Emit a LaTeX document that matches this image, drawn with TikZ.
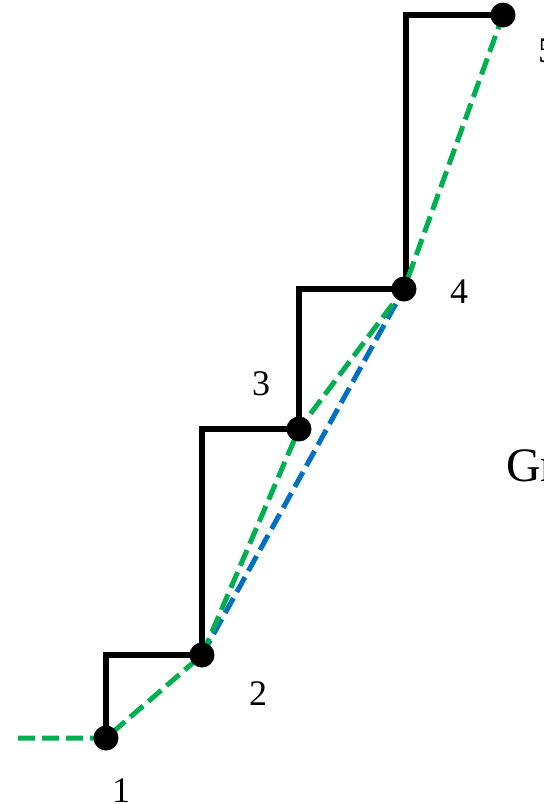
\documentclass[tikz,border=0pt]{standalone}
\usepackage{fontspec}
\setmainfont{Liberation Serif}
\definecolor{offgreen}{RGB}{0,176,80}
\definecolor{offblue}{RGB}{0,112,192}
\begin{document}
\begin{tikzpicture}[x=1pt,y=-1pt,
  stairline/.style={line width=6pt,black,line join=miter},
  greendash/.style={line width=5pt,offgreen,dash pattern=on 17pt off 7pt},
  bluedash/.style={line width=5pt,offblue,dash pattern=on 17pt off 7pt},
  dot/.style={circle,fill=black,inner sep=0pt,minimum size=25pt},
  lbl/.style={font=\fontsize{36}{40}\selectfont,anchor=base,inner sep=0pt}]
\useasboundingbox (0,0) rectangle (544,804);
\coordinate (p0) at (18,738);
\coordinate (p1) at (106,738);
\coordinate (p2) at (202,655);
\coordinate (p3) at (299,429);
\coordinate (p4) at (404,289);
\coordinate (p5) at (503,15);
% staircase
\draw[stairline] (p1) |- (p2) |- (p3) |- (p4);
\draw[stairline] (p4) ++(2,0) |- (p5);
% dashed lines
\draw[bluedash] (p2) -- (p4);
\draw[greendash] (p0) -- (p1) -- (p2) -- (p3) -- (p4) -- (p5);
% dots
\node[dot] (d1) at (p1) {};
\node[dot] (d2) at (p2) {};
\node[dot] (d3) at (p3) {};
\node[dot] (d4) at (p4) {};
\node[dot] (d5) at (p5) {};
% labels
\node[lbl] (l1) at (121,802) {1};
\node[lbl] (l2) at (258,705) {2};
\node[lbl] (l3) at (261,395) {3};
\node[lbl] (l4) at (459,303) {4};
\node[lbl] (l5) at (547,62) {5};
\node[font=\fontsize{48}{52}\selectfont,anchor=base west,inner sep=0pt] (gr) at (506,481) {Gr};
\end{tikzpicture}
\end{document}
